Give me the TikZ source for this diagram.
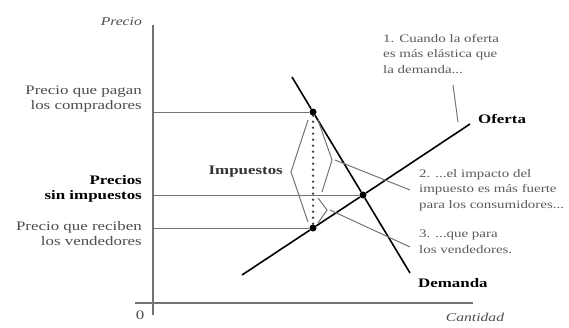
\documentclass[tikz,border=0pt]{standalone}
\usepackage{fontspec}
\setmainfont{Liberation Serif}[FakeStretch=1.3]
\usetikzlibrary{positioning}

\tikzset{
    eje/.style={draw=black!55, line width=1.3pt},
    guia/.style={draw=black!55, line width=1pt},
    curva/.style={draw=black, line width=1.6pt},
    llave/.style={draw=black!55, line width=1pt},
    punto/.style={circle, fill=black, inner sep=0pt, minimum size=7pt},
    etiq/.style={font=\fontsize{13}{15}\selectfont, text=black!70, align=right, inner sep=0pt},
    nota/.style={font=\fontsize{11.5}{15.5}\selectfont, text=black!65, align=left, inner sep=0pt}
}

\begin{document}
\begin{tikzpicture}[x=1pt, y=-1pt]
    \useasboundingbox (0,0) rectangle (569,327);
    % --- EJES ---
    \def\ox{153}
    \def\oy{303}
    \draw[eje] (\ox,25) -- (\ox,315);
    \draw[eje] (135,\oy) -- (473,\oy);
    \node[etiq, anchor=east, font=\fontsize{12}{14}\selectfont\itshape] (precio) at (142,22) {Precio};
    \node[etiq, anchor=north] (cero) at (140,311) {0};
    \node[etiq, font=\fontsize{12}{14}\selectfont\itshape] (cantidad) at (475,317) {Cantidad};

    % Puntos de equilibrio con y sin impuesto
    \node[punto] (A) at (313,112) {};
    \node[punto] (E) at (363,195) {};
    \node[punto] (B) at (313,228) {};

    % Extremos de las curvas
    \coordinate (D1) at (292,77);
    \coordinate (D2) at (410,273);
    \coordinate (S1) at (242,275);
    \coordinate (S2) at (470,124);
    \draw[curva] (D1) -- (A) -- (E) -- (D2);
    \draw[curva] (S1) -- (B) -- (E) -- (S2);
    \node[anchor=west, font=\fontsize{13}{15}\selectfont\bfseries, inner sep=0pt] (oferta) at (478,119) {Oferta};
    \node[anchor=west, font=\fontsize{13}{15}\selectfont\bfseries, inner sep=0pt] (demanda) at (418,283) {Demanda};

    % Precios en el eje vertical
    \coordinate (pA) at (\ox,112);
    \coordinate (pE) at (\ox,195);
    \coordinate (pB) at (\ox,228);
    \draw[guia] (pA) -- (A);
    \draw[guia] (pE) -- (E);
    \draw[guia] (pB) -- (B);
    \node[etiq, anchor=east] (compradores) at (142,99) {Precio que pagan\\los compradores};
    \node[etiq, anchor=east, text=black, font=\fontsize{13}{15}\selectfont\bfseries] (sinimp) at (142,189) {Precios\\sin impuestos};
    \node[etiq, anchor=east] (vendedores) at (142,234) {Precio que reciben\\los vendedores};

    % Impuesto: cuña punteada y llaves
    \draw[black!75, line width=2.6pt, line cap=round, dash pattern=on 0pt off 6pt] (A) -- (B);
    \draw[llave] (308,120) -- (291,172) -- (308,222);
    \node[anchor=east, font=\fontsize{13}{15}\selectfont\bfseries, text=black!80, inner sep=0pt] (impuestos) at (283,172) {Impuestos};
    \coordinate (k1) at (332,160);
    \coordinate (k2) at (327,210);
    \draw[llave] (318,120) -- (k1) -- (322,192);
    \draw[llave] (318,198) -- (k2) -- (318,223);

    % Notas a la derecha
    \node[nota, anchor=west] (nota1) at (383,54) {1. Cuando la oferta\\es más elástica que\\la demanda...};
    \node[nota, anchor=west] (nota2) at (419,190) {2. ...el impacto del\\impuesto es más fuerte\\para los consumidores...};
    \node[nota, anchor=west] (nota3) at (419,242) {3. ...que para\\los vendedores.};
    \draw[llave] (453,85) -- (458,122);
    \draw[llave] ([xshift=3pt]k1) -- ([xshift=-9pt, yshift=0pt]nota2.west);
    \draw[llave] ([xshift=3pt]k2) -- ([xshift=-9pt, yshift=-5pt]nota3.west);
\end{tikzpicture}
\end{document}
